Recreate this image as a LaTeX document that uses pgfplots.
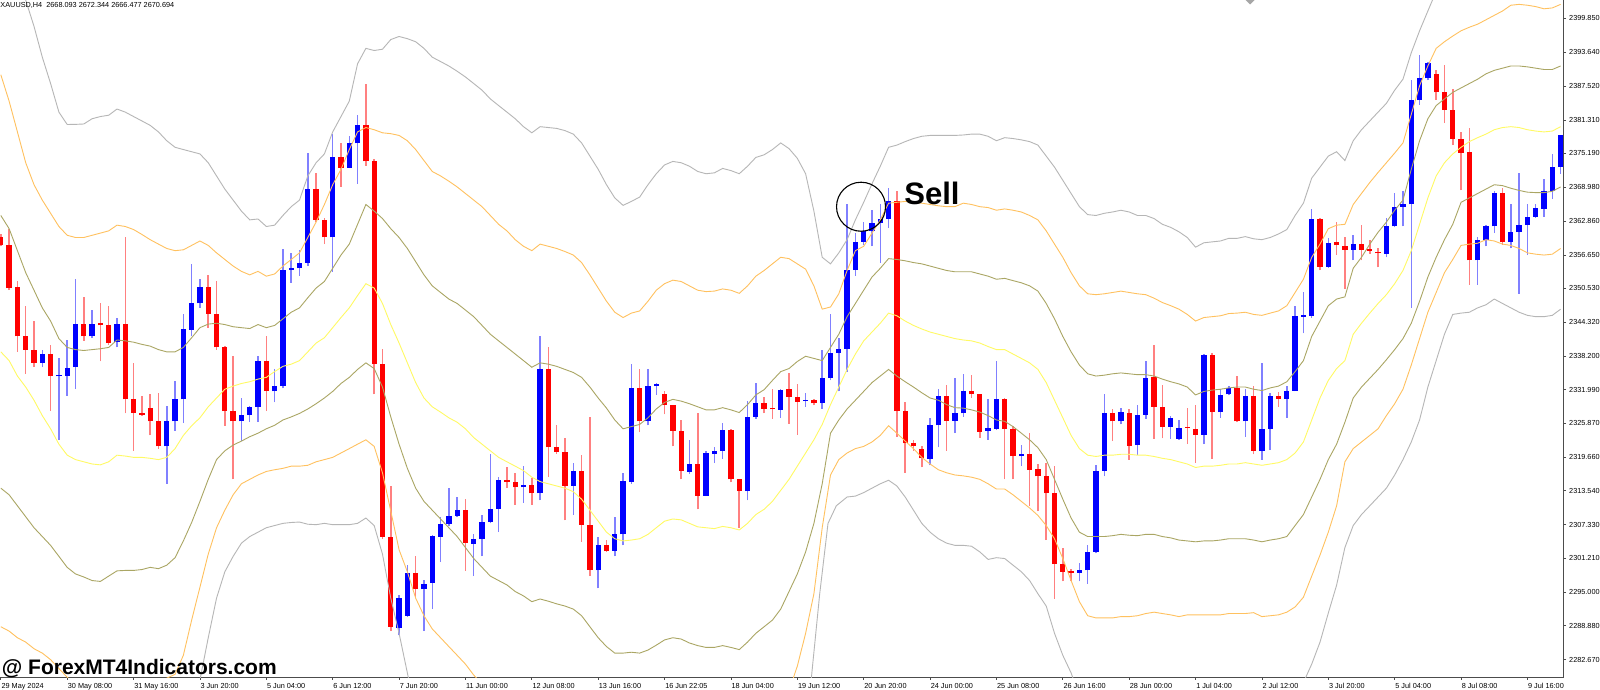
\documentclass[border=0pt]{standalone}
\usepackage{pgfplots}
\pgfplotsset{compat=1.18}
\usepackage{pgfplotstable}
\usetikzlibrary{backgrounds}
\usepackage{fontspec}
\setmainfont{Liberation Sans}
\definecolor{bull}{RGB}{0,0,255}
\definecolor{bear}{RGB}{255,0,0}
\definecolor{bullw}{RGB}{128,128,255}
\definecolor{bearw}{RGB}{255,128,128}
\definecolor{bgray}{RGB}{182,182,182}
\definecolor{borange}{RGB}{255,193,95}
\definecolor{bolive}{RGB}{170,166,100}
\definecolor{byellow}{RGB}{255,250,100}
\newcommand{\lab}{\fontsize{7.3}{8}\selectfont}

\pgfplotstableread{
i o h l c
0 2359.83 2360.47 2358.22 2358.38
1 2358.38 2361.44 2350.19 2350.59
2 2350.75 2351.79 2338.93 2341.75
3 2341.75 2347.37 2334.92 2339.34
4 2339.34 2344.56 2336.12 2336.92
5 2336.92 2339.18 2336.12 2338.53
6 2338.53 2340.14 2328.08 2334.51
7 2334.43 2337.73 2322.86 2334.67
8 2334.51 2341.10 2330.90 2336.04
9 2336.12 2352.20 2332.10 2344.00
10 2344.00 2348.98 2340.94 2341.75
11 2341.75 2346.57 2341.50 2344.00
12 2344.16 2347.77 2337.17 2343.76
13 2343.76 2347.37 2340.14 2340.54
14 2340.70 2345.20 2339.74 2344.00
15 2344.00 2359.83 2327.68 2330.25
16 2330.25 2336.92 2320.85 2327.84
17 2327.84 2330.90 2327.28 2327.36
18 2328.73 2331.30 2323.66 2326.24
19 2326.24 2331.46 2321.25 2321.65
20 2321.65 2329.05 2314.82 2326.24
21 2326.24 2333.55 2324.47 2330.25
22 2330.25 2345.93 2325.91 2343.11
23 2342.95 2355.01 2341.75 2347.94
24 2347.77 2352.20 2346.97 2350.83
25 2350.83 2353.00 2343.35 2345.85
26 2345.85 2351.79 2339.34 2339.74
27 2339.90 2340.00 2325.43 2328.08
28 2328.08 2338.13 2315.63 2326.24
29 2326.24 2330.50 2322.62 2327.44
30 2327.44 2329.00 2326.07 2328.89
31 2328.89 2338.13 2326.07 2337.33
32 2337.33 2341.75 2328.08 2331.86
33 2331.70 2335.72 2329.69 2332.67
34 2332.67 2357.66 2332.26 2353.80
35 2353.88 2357.02 2351.55 2354.20
36 2354.20 2357.58 2352.84 2355.25
37 2355.17 2375.26 2354.61 2368.67
38 2368.67 2371.64 2362.64 2363.05
39 2363.05 2363.45 2358.62 2359.83
40 2359.83 2378.72 2353.56 2374.46
41 2374.46 2377.11 2369.07 2372.61
42 2372.61 2378.32 2372.45 2377.03
43 2377.03 2382.17 2369.64 2380.32
44 2380.32 2387.96 2372.93 2373.73
45 2373.73 2374.14 2331.14 2336.68
46 2336.68 2339.50 2304.78 2305.18
47 2305.18 2314.42 2287.90 2288.70
48 2288.54 2294.57 2287.10 2293.93
49 2290.71 2299.95 2290.50 2298.59
50 2298.59 2301.56 2294.17 2295.53
51 2295.53 2297.30 2287.90 2296.58
52 2296.74 2305.50 2291.92 2305.34
53 2305.18 2308.80 2300.52 2307.43
54 2307.43 2314.02 2307.11 2308.96
55 2308.96 2312.41 2308.72 2310.00
56 2310.00 2312.01 2298.91 2303.97
57 2303.89 2305.58 2297.95 2304.70
58 2304.70 2309.04 2301.56 2307.83
59 2307.83 2320.21 2307.59 2310.24
60 2310.24 2316.03 2305.98 2315.47
61 2315.47 2317.80 2314.02 2315.14
62 2315.22 2316.83 2310.97 2314.18
63 2314.18 2318.04 2311.37 2314.58
64 2314.58 2315.95 2310.97 2313.05
65 2313.05 2341.75 2311.77 2335.72
66 2335.72 2339.74 2316.03 2321.49
67 2321.49 2325.51 2320.29 2320.69
68 2320.69 2323.26 2308.15 2314.42
69 2314.42 2318.68 2309.20 2317.23
70 2317.23 2320.05 2304.21 2307.35
71 2307.35 2327.04 2297.95 2299.15
72 2298.99 2305.18 2295.69 2303.57
73 2303.57 2304.54 2302.40 2302.53
74 2302.61 2308.80 2301.56 2305.58
75 2305.58 2316.83 2303.57 2315.39
76 2315.22 2336.68 2314.82 2332.26
77 2332.26 2335.72 2324.23 2326.24
78 2326.24 2335.72 2325.51 2332.67
79 2332.67 2333.31 2331.06 2333.07
80 2331.30 2331.70 2327.52 2329.13
81 2329.13 2329.20 2321.65 2324.47
82 2324.47 2326.48 2315.63 2317.23
83 2316.99 2322.86 2316.59 2318.44
84 2318.44 2327.84 2310.16 2312.65
85 2312.65 2320.85 2312.50 2320.45
86 2320.29 2321.49 2318.60 2320.85
87 2320.85 2325.91 2319.40 2324.63
88 2324.63 2324.87 2315.06 2315.63
89 2315.63 2315.70 2306.79 2313.46
90 2313.46 2329.93 2311.77 2327.04
91 2327.04 2333.31 2326.72 2329.53
92 2329.53 2330.66 2327.68 2328.49
93 2328.60 2332.10 2326.72 2328.40
94 2328.33 2332.10 2326.88 2331.94
95 2332.10 2335.08 2325.83 2330.66
96 2330.66 2333.07 2323.82 2329.85
97 2329.95 2331.46 2328.89 2330.20
98 2330.09 2330.33 2329.13 2329.53
99 2329.53 2339.34 2328.49 2334.11
100 2334.11 2345.77 2333.71 2338.77
101 2338.77 2341.51 2331.70 2339.50
102 2339.50 2365.86 2335.32 2353.96
103 2353.96 2360.63 2352.84 2359.03
104 2359.03 2362.64 2358.38 2361.04
105 2361.04 2364.81 2358.22 2362.40
106 2362.40 2365.86 2355.17 2363.21
107 2363.21 2368.83 2361.60 2366.42
108 2366.42 2368.27 2323.42 2328.08
109 2328.08 2329.69 2316.83 2322.22
110 2322.22 2322.86 2320.85 2321.65
111 2321.25 2321.65 2317.80 2319.48
112 2319.40 2326.88 2318.20 2325.51
113 2325.51 2332.10 2321.49 2330.90
114 2330.90 2332.91 2320.85 2326.32
115 2326.32 2334.11 2324.07 2327.84
116 2327.68 2334.92 2327.04 2331.86
117 2331.86 2334.67 2330.50 2331.14
118 2331.14 2331.20 2323.26 2324.31
119 2324.47 2330.25 2322.86 2325.03
120 2324.87 2337.33 2324.63 2330.33
121 2330.33 2330.50 2315.63 2324.87
122 2324.87 2325.43 2315.63 2319.89
123 2319.89 2321.90 2318.04 2320.29
124 2320.21 2324.07 2310.80 2317.39
125 2317.47 2318.44 2309.76 2316.19
126 2316.27 2318.68 2304.54 2313.05
127 2313.21 2318.04 2293.77 2300.12
128 2300.12 2303.17 2296.98 2298.75
129 2298.91 2299.31 2296.98 2298.59
130 2298.59 2300.36 2296.98 2298.99
131 2298.99 2303.57 2296.58 2302.37
132 2302.37 2318.20 2302.12 2317.23
133 2317.23 2331.14 2316.19 2327.68
134 2327.68 2328.49 2322.62 2326.24
135 2326.24 2328.73 2325.67 2327.92
136 2327.84 2328.49 2319.24 2321.81
137 2321.90 2329.13 2320.05 2327.44
138 2327.44 2337.33 2326.72 2334.11
139 2334.27 2340.14 2323.02 2328.89
140 2328.89 2332.91 2323.10 2325.27
141 2325.27 2327.12 2323.02 2326.88
142 2323.02 2326.48 2322.90 2325.03
143 2325.27 2328.73 2322.06 2325.03
144 2324.87 2329.29 2318.68 2323.82
145 2323.82 2338.53 2322.06 2338.37
146 2338.37 2338.77 2319.40 2327.92
147 2327.92 2332.10 2326.88 2331.06
148 2331.14 2332.74 2331.00 2332.34
149 2332.34 2334.51 2326.07 2326.24
150 2326.24 2332.10 2323.42 2330.90
151 2330.90 2332.67 2320.21 2320.85
152 2320.85 2336.92 2319.24 2324.87
153 2324.87 2331.46 2321.01 2330.90
154 2330.90 2331.54 2328.89 2330.33
155 2330.33 2332.74 2326.88 2331.86
156 2331.86 2347.37 2331.70 2345.52
157 2345.36 2349.78 2342.31 2345.68
158 2345.52 2365.05 2345.20 2363.21
159 2363.21 2363.30 2353.80 2354.45
160 2354.45 2359.67 2354.30 2358.87
161 2359.03 2362.64 2356.62 2358.38
162 2358.22 2359.83 2350.43 2357.58
163 2357.58 2360.23 2355.65 2358.62
164 2358.62 2362.08 2355.65 2357.58
165 2357.74 2359.43 2356.86 2357.42
166 2357.26 2357.82 2354.37 2356.94
167 2356.86 2363.45 2356.21 2361.84
168 2361.84 2367.87 2361.68 2365.46
169 2365.46 2368.27 2361.84 2365.86
170 2365.86 2388.52 2346.97 2384.91
171 2384.91 2393.18 2384.10 2389.00
172 2388.92 2391.82 2388.52 2391.74
173 2389.73 2390.37 2384.91 2386.35
174 2386.35 2391.33 2380.73 2383.14
175 2383.14 2386.99 2376.71 2377.91
176 2377.91 2379.12 2368.43 2375.34
177 2375.50 2379.76 2351.15 2355.65
178 2355.65 2359.99 2351.15 2359.43
179 2359.43 2362.08 2358.22 2361.84
180 2361.84 2368.27 2360.63 2367.87
181 2367.87 2368.83 2358.46 2359.03
182 2359.03 2365.86 2357.82 2360.79
183 2360.79 2371.64 2349.54 2362.08
184 2362.08 2365.86 2356.62 2363.61
185 2363.61 2365.86 2363.45 2365.30
186 2365.05 2370.44 2363.61 2368.27
187 2368.27 2375.10 2366.82 2372.69
188 2372.69 2378.60 2371.48 2378.56
}\candles

\begin{document}
\begin{tikzpicture}
\begin{axis}[
  width=1563.5pt, height=677.3pt, scale only axis,
  clip bounding box=upper bound,
  xmin=-0.1, xmax=188.35, ymin=2279.46, ymax=2403.23,
  axis x line*=bottom, axis y line*=right,
  axis line style={draw=black!70, line width=0.9pt, -},
  tick align=outside, major tick length=2.5pt,
  tick style={draw=black!70, line width=0.7pt},
  xtick={0,8,...,184},
  xticklabels={29 May 2024,30 May 08:00,31 May 16:00,3 Jun 20:00,5 Jun 04:00,6 Jun 12:00,7 Jun 20:00,11 Jun 00:00,12 Jun 08:00,13 Jun 16:00,16 Jun 22:05,18 Jun 04:00,19 Jun 12:00,20 Jun 20:00,24 Jun 00:00,25 Jun 08:00,26 Jun 16:00,28 Jun 00:00,1 Jul 04:00,2 Jul 12:00,3 Jul 20:00,5 Jul 04:00,8 Jul 08:00,9 Jul 16:00},
  x tick label style={anchor=north west, font=\lab, inner sep=0pt, xshift=0.5pt, yshift=-3.5pt},
  ytick={2399.85,2393.64,2387.52,2381.31,2375.19,2368.98,2362.86,2356.65,2350.53,2344.32,2338.20,2331.99,2325.87,2319.66,2313.54,2307.33,2301.21,2295.00,2288.88,2282.67},
  yticklabels={2399.850,2393.640,2387.520,2381.310,2375.190,2368.980,2362.860,2356.650,2350.530,2344.320,2338.200,2331.990,2325.870,2319.660,2313.540,2307.330,2301.210,2295.000,2288.880,2282.670},
  y tick label style={anchor=west, font=\lab, inner sep=0pt, xshift=3pt},
  clip=true,
]
\coordinate (ll) at (rel axis cs:0,0);
% wicks (low to high)
\addplot[bullw, line width=1.5pt, forget plot, quiver={u=0, v={\thisrow{h}-\thisrow{l}}},
  x filter/.expression={\thisrow{c}>=\thisrow{o} ? x : nan}]
  table[x=i, y=l] {\candles};
\addplot[bearw, line width=1.5pt, forget plot, quiver={u=0, v={\thisrow{h}-\thisrow{l}}},
  x filter/.expression={\thisrow{c}<\thisrow{o} ? x : nan}]
  table[x=i, y=l] {\candles};
% bodies (open to close)
\addplot[bull, line width=5.3pt, forget plot, quiver={u=0, v={\thisrow{c}-\thisrow{o}}},
  x filter/.expression={\thisrow{c}>=\thisrow{o} ? x : nan}]
  table[x=i, y=o] {\candles};
\addplot[bear, line width=5.3pt, forget plot, quiver={u=0, v={\thisrow{o}-\thisrow{c}}},
  x filter/.expression={\thisrow{c}<\thisrow{o} ? x : nan}]
  table[x=i, y=c] {\candles};

% gray upper
\addplot[bgray, line width=0.9pt, forget plot] table {
0 2418
1 2413
2 2408
3 2403.2
4 2398.41
5 2392.78
6 2387.96
7 2382.74
8 2380.48
9 2380.5
10 2380.57
11 2381.53
12 2381.93
13 2382.17
14 2383.30
15 2382.74
16 2381.93
17 2381.13
18 2380.32
19 2379.12
20 2377.51
21 2376.31
22 2375.90
23 2375.50
24 2375.10
25 2373.49
26 2371.08
27 2368.67
28 2366.66
29 2364.65
30 2363.05
31 2363.21
32 2361.84
33 2362.08
34 2363.85
35 2365.46
36 2366.66
37 2371.08
38 2373.49
39 2375.10
40 2379.12
41 2381.93
42 2384.75
43 2391.58
44 2394.39
45 2394.0
46 2394.23
47 2396.0
48 2396.56
49 2396.16
50 2395.60
51 2394.39
52 2392.78
53 2391.98
54 2391.17
55 2390.21
56 2389.16
57 2387.96
58 2386.75
59 2385.15
60 2383.94
61 2382.74
62 2381.53
63 2380.08
64 2378.96
65 2380.08
66 2379.92
67 2379.76
68 2379.36
69 2378.72
70 2377.11
71 2374.70
72 2372.29
73 2369.47
74 2367.06
75 2365.70
76 2366.42
77 2367.22
78 2369.47
79 2371.48
80 2373.09
81 2373.73
82 2373.49
83 2372.85
84 2371.89
85 2371.48
86 2371.64
87 2372.45
88 2372.05
89 2371.48
90 2372.85
91 2374.46
92 2374.94
93 2375.90
94 2377.11
95 2376.07
96 2374.30
97 2371.48
98 2364.65
99 2356.21
100 2355.01
101 2357.02
102 2359.43
103 2363.05
104 2366.26
105 2369.64
106 2372.85
107 2376.31
108 2376.71
109 2377.35
110 2377.91
111 2378.32
112 2378.48
113 2378.48
114 2378.48
115 2378.48
116 2378.56
117 2378.72
118 2378.72
119 2378.32
120 2377.51
121 2378.07
122 2377.91
123 2377.67
124 2377.35
125 2376.71
126 2374.70
127 2372.69
128 2370.28
129 2367.87
130 2365.46
131 2364.01
132 2363.85
133 2364.25
134 2364.49
135 2364.81
136 2364.49
137 2363.85
138 2363.85
139 2363.29
140 2362.24
141 2361.68
142 2360.87
143 2359.83
144 2358.06
145 2358.86
146 2359.03
147 2359.19
148 2359.67
149 2359.67
150 2359.99
151 2359.59
152 2359.43
153 2359.83
154 2360.47
155 2361.28
156 2363.85
157 2366.10
158 2370.68
159 2372.69
160 2374.70
161 2375.50
162 2373.89
163 2377.51
164 2379.52
165 2381.13
166 2382.74
167 2384.34
168 2386.75
169 2388.76
170 2393.59
171 2397.60
172 2401.22
173 2404.8
174 2407.2
176 2409.5
180 2411
184 2411.5
188 2411
};
% orange upper
\addplot[borange, line width=0.9pt, forget plot] table {
0 2389.57
1 2384.74
2 2379.12
3 2373.49
4 2369.47
5 2366.66
6 2364.25
7 2361.84
8 2360.23
9 2359.83
10 2359.83
11 2360.23
12 2360.63
13 2361.04
14 2362.08
15 2361.84
16 2361.28
17 2360.39
18 2359.43
19 2358.62
20 2357.82
21 2357.42
22 2357.58
23 2358.38
24 2359.19
25 2358.38
26 2357.02
27 2355.81
28 2354.61
29 2353.64
30 2353.00
31 2353.64
32 2352.76
33 2353.16
34 2354.61
35 2355.81
36 2357.02
37 2359.83
38 2362.64
39 2365.86
40 2369.47
41 2372.29
42 2375.90
43 2379.12
44 2379.92
45 2379.52
46 2378.96
47 2378.80
48 2378.48
49 2377.51
50 2375.90
51 2373.89
52 2371.89
53 2371.08
54 2370.12
55 2369.07
56 2367.87
57 2366.66
58 2365.46
59 2363.85
60 2362.24
61 2361.04
62 2359.43
63 2358.22
64 2357.42
65 2358.62
66 2358.22
67 2357.82
68 2357.26
69 2356.62
70 2355.25
71 2353.00
72 2350.59
73 2348.18
74 2346.17
75 2345.20
76 2346.01
77 2346.41
78 2348.18
79 2350.19
80 2351.39
81 2352.03
82 2351.79
83 2350.99
84 2350.19
85 2349.94
86 2350.03
87 2350.43
88 2350.19
89 2349.62
90 2350.99
91 2352.76
92 2353.80
93 2355.01
94 2356.21
95 2355.97
96 2355.01
97 2354.04
98 2350.99
99 2346.73
100 2347.13
101 2349.54
102 2353.80
103 2357.42
104 2358.22
105 2360.63
106 2363.05
107 2366.10
108 2366.26
109 2366.42
110 2366.26
111 2366.10
112 2365.86
113 2365.62
114 2365.46
115 2365.46
116 2366.10
117 2365.86
118 2365.46
119 2365.30
120 2364.81
121 2365.05
122 2364.81
123 2364.49
124 2363.85
125 2363.05
126 2361.04
127 2358.62
128 2356.21
129 2353.40
130 2350.99
131 2349.54
132 2349.38
133 2349.54
134 2349.78
135 2350.03
136 2349.78
137 2349.54
138 2349.38
139 2348.74
140 2347.94
141 2347.37
142 2346.73
143 2345.77
144 2344.56
145 2345.20
146 2345.36
147 2345.52
148 2345.93
149 2346.01
150 2346.17
151 2345.77
152 2345.60
153 2346.01
154 2346.41
155 2347.37
156 2349.78
157 2352.20
158 2356.21
159 2358.62
160 2361.44
161 2362.08
162 2362.24
163 2365.86
164 2367.87
165 2369.88
166 2371.72
167 2373.49
168 2375.26
169 2377.11
170 2382.33
171 2387.56
172 2391.17
173 2394.39
174 2395.60
175 2396.64
176 2397.60
177 2398.25
178 2398.81
179 2399.61
180 2400.42
181 2401.22
182 2402.27
183 2402.43
184 2402.27
185 2402.02
186 2401.62
187 2401.78
188 2402.43
};
% olive upper
\addplot[bolive, line width=0.9pt, forget plot] table {
0 2363.85
1 2361.44
2 2357.42
3 2353.40
4 2350.19
5 2346.97
6 2344.56
7 2341.35
8 2339.74
9 2339.34
10 2339.18
11 2339.34
12 2339.50
13 2339.74
14 2341.10
15 2340.94
16 2340.70
17 2340.30
18 2339.98
19 2339.34
20 2338.93
21 2338.93
22 2339.74
23 2341.51
24 2343.35
25 2344.00
26 2344.16
27 2343.92
28 2343.52
29 2343.35
30 2343.19
31 2343.92
32 2343.35
33 2343.76
34 2344.96
35 2346.17
36 2346.97
37 2348.82
38 2350.59
39 2351.79
40 2354.20
41 2356.62
42 2358.62
43 2362.24
44 2365.86
45 2364.65
46 2363.29
47 2361.44
48 2359.83
49 2357.82
50 2355.41
51 2353.00
52 2350.99
53 2349.78
54 2348.58
55 2347.77
56 2346.57
57 2345.36
58 2343.76
59 2342.15
60 2340.94
61 2339.74
62 2338.53
63 2337.33
64 2336.12
65 2336.92
66 2336.68
67 2336.28
68 2335.72
69 2335.16
70 2334.27
71 2332.50
72 2330.50
73 2328.65
74 2326.48
75 2324.87
76 2325.27
77 2325.67
78 2326.88
79 2328.49
80 2329.69
81 2330.25
82 2329.93
83 2329.45
84 2328.89
85 2328.33
86 2328.33
87 2328.73
88 2328.33
89 2327.84
90 2329.29
91 2331.06
92 2332.02
93 2333.71
94 2335.32
95 2335.88
96 2337.17
97 2338.13
98 2337.73
99 2337.33
100 2339.74
101 2342.15
102 2345.36
103 2347.77
104 2350.19
105 2352.60
106 2354.20
107 2355.97
108 2355.81
109 2355.57
110 2355.25
111 2355.01
112 2354.61
113 2354.20
114 2353.80
115 2353.56
116 2353.56
117 2353.56
118 2353.16
119 2352.76
120 2352.20
121 2352.36
122 2351.95
123 2351.55
124 2350.99
125 2350.03
126 2347.77
127 2344.96
128 2341.75
129 2338.93
130 2336.52
131 2334.92
132 2334.51
133 2334.67
134 2334.92
135 2335.08
136 2334.92
137 2334.76
138 2334.76
139 2334.51
140 2333.95
141 2333.47
142 2333.07
143 2332.50
144 2331.06
145 2331.70
146 2331.94
147 2332.10
148 2332.34
149 2332.50
150 2332.50
151 2332.10
152 2331.86
153 2332.34
154 2332.67
155 2333.47
156 2335.32
157 2337.33
158 2341.75
159 2344.56
160 2347.37
161 2348.58
162 2348.98
163 2354.20
164 2356.21
165 2358.62
166 2360.79
167 2362.64
168 2364.81
169 2366.66
170 2372.29
171 2377.51
172 2381.53
173 2383.94
174 2385.15
175 2386.35
176 2387.16
177 2387.96
178 2388.76
179 2389.73
180 2390.37
181 2390.77
182 2391.17
183 2391.17
184 2391.01
185 2390.77
186 2390.53
187 2390.53
188 2391.17
};
% middle (yellow)
\addplot[byellow, line width=0.9pt, forget plot] table {
0 2338.93
1 2337.33
2 2334.51
3 2332.50
4 2330.09
5 2327.28
6 2324.87
7 2322.06
8 2320.05
9 2319.24
10 2318.84
11 2318.44
12 2318.28
13 2318.84
14 2320.05
15 2319.89
16 2319.65
17 2319.65
18 2319.48
19 2319.24
20 2319.65
21 2321.25
22 2323.66
23 2325.43
24 2326.88
25 2328.89
26 2330.50
27 2332.10
28 2332.67
29 2333.15
30 2333.47
31 2333.95
32 2334.27
33 2335.32
34 2336.28
35 2336.68
36 2337.33
37 2338.93
38 2340.54
39 2341.51
40 2343.35
41 2345.20
42 2346.97
43 2349.22
44 2351.39
45 2350.59
46 2347.77
47 2343.92
48 2340.54
49 2336.92
50 2333.31
51 2330.50
52 2328.89
53 2327.92
54 2326.88
55 2326.07
56 2324.87
57 2323.26
58 2322.06
59 2320.85
60 2319.65
61 2318.84
62 2318.04
63 2317.23
64 2316.03
65 2315.22
66 2314.82
67 2314.42
68 2314.02
69 2313.38
70 2312.01
71 2310.00
72 2307.99
73 2305.98
74 2304.78
75 2304.38
76 2304.54
77 2304.78
78 2305.58
79 2306.79
80 2307.99
81 2308.39
82 2308.23
83 2307.59
84 2306.95
85 2306.79
86 2306.63
87 2307.03
88 2306.79
89 2306.38
90 2307.59
91 2309.20
92 2310.16
93 2311.61
94 2313.62
95 2315.63
96 2318.04
97 2320.45
98 2322.86
99 2325.67
100 2329.29
101 2332.50
102 2335.72
103 2338.53
104 2340.94
105 2342.55
106 2344.16
107 2346.01
108 2345.52
109 2344.56
110 2343.76
111 2343.11
112 2342.55
113 2342.15
114 2341.75
115 2341.35
116 2341.10
117 2340.94
118 2340.54
119 2339.90
120 2339.34
121 2339.34
122 2338.53
123 2337.73
124 2336.92
125 2335.72
126 2333.31
127 2330.09
128 2326.88
129 2323.66
130 2321.25
131 2320.05
132 2319.81
133 2320.05
134 2320.05
135 2320.21
136 2320.21
137 2320.05
138 2320.05
139 2319.81
140 2319.48
141 2319.24
142 2318.84
143 2318.44
144 2317.80
145 2318.04
146 2318.04
147 2318.20
148 2318.44
149 2318.44
150 2318.68
151 2318.44
152 2318.20
153 2318.44
154 2318.68
155 2319.24
156 2320.45
157 2322.46
158 2326.48
159 2330.50
160 2333.71
161 2335.88
162 2337.33
163 2342.15
164 2344.16
165 2346.01
166 2347.77
167 2349.38
168 2351.39
169 2353.80
170 2357.42
171 2362.24
172 2367.06
173 2371.08
174 2373.49
175 2375.10
176 2376.31
177 2377.35
178 2378.07
179 2378.72
180 2379.52
181 2379.92
182 2380.08
183 2379.92
184 2379.52
185 2379.28
186 2379.12
187 2379.28
188 2380.08
};
% olive lower
\addplot[bolive, line width=0.9pt, forget plot] table {
0 2314.02
1 2312.81
2 2310.80
3 2308.80
4 2306.79
5 2305.18
6 2303.57
7 2301.56
8 2299.55
9 2298.35
10 2297.79
11 2297.14
12 2296.98
13 2297.95
14 2298.91
15 2298.99
16 2298.99
17 2299.15
18 2299.55
19 2299.31
20 2299.95
21 2301.32
22 2304.38
23 2307.75
24 2311.61
25 2315.63
26 2319.24
27 2320.85
28 2321.90
29 2322.62
30 2323.42
31 2324.07
32 2324.87
33 2325.51
34 2326.48
35 2327.04
36 2327.68
37 2328.49
38 2329.45
39 2330.50
40 2331.70
41 2333.15
42 2334.27
43 2335.72
44 2336.92
45 2335.88
46 2332.50
47 2327.04
48 2322.06
49 2317.64
50 2314.02
51 2311.61
52 2310.00
53 2308.39
54 2306.79
55 2305.18
56 2303.17
57 2301.16
58 2299.55
59 2297.95
60 2297.14
61 2296.34
62 2295.13
63 2294.33
64 2293.28
65 2293.77
66 2293.36
67 2292.88
68 2292.48
69 2291.92
70 2290.71
71 2288.70
72 2286.69
73 2285.08
74 2283.88
75 2283.88
76 2284.04
77 2283.88
78 2284.44
79 2285.33
80 2286.29
81 2286.69
82 2286.45
83 2285.73
84 2285.25
85 2284.92
86 2284.92
87 2285.25
88 2284.92
89 2284.52
90 2285.89
91 2287.50
92 2288.70
93 2289.91
94 2291.92
95 2295.13
96 2298.35
97 2302.37
98 2307.59
99 2314.82
100 2324.07
101 2326.48
102 2328.49
103 2330.09
104 2331.70
105 2333.31
106 2334.51
107 2335.72
108 2334.51
109 2333.47
110 2332.50
111 2331.46
112 2330.50
113 2330.09
114 2329.29
115 2328.73
116 2328.65
117 2328.33
118 2327.92
119 2327.28
120 2326.48
121 2326.24
122 2325.27
123 2324.07
124 2322.86
125 2321.41
126 2319.24
127 2315.63
128 2312.01
129 2308.56
130 2305.98
131 2305.18
132 2305.18
133 2305.18
134 2305.34
135 2305.58
136 2305.42
137 2305.34
138 2305.58
139 2305.58
140 2305.18
141 2304.94
142 2304.54
143 2304.38
144 2304.22
145 2304.38
146 2304.38
147 2304.54
148 2304.78
149 2304.78
150 2304.78
151 2304.54
152 2304.22
153 2304.54
154 2304.78
155 2305.18
156 2307.19
157 2309.20
158 2312.41
159 2315.63
160 2319.24
161 2322.06
162 2326.07
163 2330.50
164 2332.50
165 2334.11
166 2335.72
167 2337.49
168 2339.34
169 2341.35
170 2344.16
171 2348.18
172 2352.60
173 2356.21
174 2359.43
175 2362.24
176 2366.26
177 2367.06
178 2367.87
179 2368.67
180 2369.47
181 2369.31
182 2368.83
183 2368.43
184 2368.11
185 2368.03
186 2368.03
187 2368.27
188 2369.07
};
% orange lower
\addplot[borange, line width=0.9pt, forget plot] table {
0 2288.70
1 2287.90
2 2286.69
3 2285.89
4 2284.68
5 2283.88
6 2282.68
7 2281.07
8 2279.46
9 2277.9
11 2276.0
13 2276.5
15 2277.6
17 2278.4
19 2278.9
20 2279.3
21 2280.0
22 2283.48
23 2289.91
24 2295.94
25 2301.97
26 2306.79
27 2310.00
28 2312.81
29 2314.82
30 2315.63
31 2316.43
32 2317.07
33 2317.39
34 2317.64
35 2318.04
36 2318.04
37 2318.20
38 2318.84
39 2319.24
40 2319.65
41 2320.45
42 2321.25
43 2322.06
44 2322.86
45 2321.65
46 2316.83
47 2309.84
48 2302.77
49 2298.75
50 2293.93
51 2290.71
52 2288.30
53 2286.69
54 2285.08
55 2283.48
56 2281.87
57 2279.86
58 2278.3
60 2275
65 2272
70 2269
75 2264
80 2265
85 2263
90 2264
93 2268
95 2277
96 2281.5
97 2287.50
98 2294.73
99 2306.79
100 2316.43
101 2319.24
102 2320.45
103 2321.25
104 2321.65
105 2322.46
106 2323.66
107 2325.43
108 2324.07
109 2322.62
110 2321.25
111 2319.65
112 2318.44
113 2317.39
114 2316.83
115 2316.43
116 2316.27
117 2316.03
118 2315.63
119 2314.82
120 2313.86
121 2313.86
122 2312.81
123 2311.61
124 2310.40
125 2309.04
126 2307.19
127 2304.78
128 2301.16
129 2297.14
130 2293.28
131 2290.71
132 2290.31
133 2290.31
134 2290.31
135 2290.55
136 2290.55
137 2290.71
138 2291.11
139 2291.36
140 2291.11
141 2290.87
142 2290.55
143 2290.87
144 2290.87
145 2290.87
146 2290.87
147 2290.87
148 2291.11
149 2291.11
150 2291.11
151 2291.27
152 2290.55
153 2290.71
154 2290.87
155 2291.36
156 2292.32
157 2294.09
158 2297.95
159 2301.80
160 2305.98
161 2310.80
162 2318.84
163 2321.25
164 2322.46
165 2323.66
166 2324.87
167 2327.28
168 2329.45
169 2332.10
170 2336.52
171 2341.35
172 2346.17
173 2349.78
174 2353.40
175 2355.81
176 2358.38
177 2358.62
178 2358.78
179 2359.43
180 2359.19
181 2358.62
182 2358.38
183 2357.82
184 2357.02
185 2356.78
186 2356.62
187 2356.78
188 2357.82
};
% gray lower
\addplot[bgray, line width=0.9pt, forget plot] table {
0 2264
8 2258
16 2256
20 2260
23 2270
24 2279
25 2286.69
26 2293.93
27 2298.75
28 2301.56
29 2303.97
30 2305.18
31 2305.98
32 2306.79
33 2307.19
34 2307.59
35 2307.75
36 2307.83
37 2307.43
38 2307.35
39 2307.59
40 2307.35
41 2307.35
42 2307.35
43 2307.59
44 2308.56
45 2307.19
46 2301.97
47 2293.93
48 2287.50
49 2280.26
50 2273
55 2262
60 2252
70 2248
80 2244
90 2242
95 2255
97 2274
97.7 2279.46
98.7 2294.73
99.7 2307.59
100.7 2310.80
102 2312.41
103 2312.57
104 2313.21
105 2314.02
106 2314.82
107 2315.47
108 2314.42
109 2312.41
110 2310.00
111 2307.59
112 2305.98
113 2304.78
114 2303.97
115 2303.57
116 2303.57
117 2303.41
118 2302.37
119 2301.00
120 2301.32
121 2301.16
122 2299.95
123 2298.75
124 2297.14
125 2294.73
126 2292.48
127 2287.50
128 2283.48
129 2280.26
130 2276
135 2275
140 2275
150 2276
155 2277
157 2278.5
158 2281.87
159 2285.89
160 2291.2
161 2296.3
162 2303.17
163 2307.19
164 2309.20
165 2310.80
166 2312.41
167 2314.02
168 2316.43
169 2319.24
170 2322.46
171 2326.48
172 2332.50
173 2337.33
174 2342.15
175 2345.77
176 2346.01
177 2346.17
178 2346.97
179 2347.53
180 2348.58
181 2347.77
182 2346.97
183 2346.17
184 2345.60
185 2345.36
186 2345.36
187 2345.60
188 2346.73
};

% annotation: circle and label
\draw[black, line width=1.1pt] (axis cs:103.68,2365.45) circle[radius=24.5pt];
\node[anchor=base west, inner sep=0pt, font=\fontsize{31}{31}\selectfont\bfseries] at (axis cs:108.88,2365.86) {Sell};
\end{axis}
\begin{scope}[shift={(ll)}, yshift=-12.7pt, x=1pt, y=1pt]
\begin{pgfonlayer}{background}
\fill[white] (0,0) rectangle (1600,690);
\end{pgfonlayer}
% header text
\node[anchor=west, inner sep=0pt, font=\lab] at (0.3,684.3) {XAUUSD,H4\ \ 2668.093 2672.344 2666.477 2670.694};
% chart shift marker
\fill[black!35] (1245.5,690) -- (1254.5,690) -- (1250,685.5) -- cycle;
% watermark
\node[anchor=base west, inner sep=0pt, font=\fontsize{21}{21}\selectfont\bfseries] at (1.7,15) {@ ForexMT4Indicators.com};
\pgfresetboundingbox
\path[use as bounding box] (0,0) rectangle (1600,690);
\end{scope}
\end{tikzpicture}
\end{document}
